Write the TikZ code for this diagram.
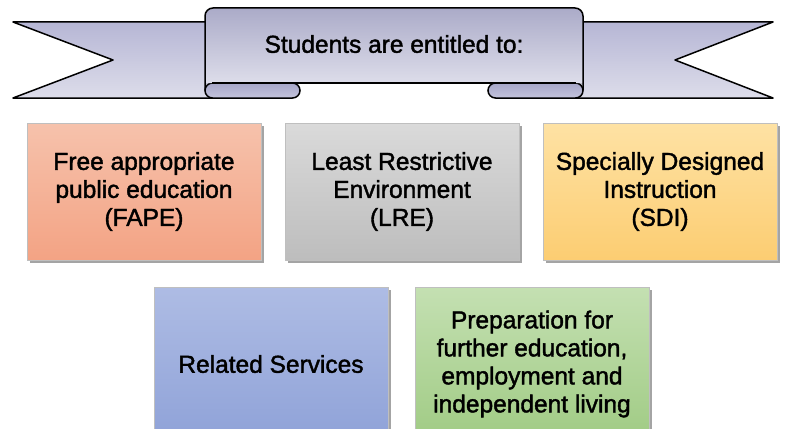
\documentclass[tikz,border=0pt]{standalone}
\usepackage{fontspec}
\setmainfont[FakeBold=1.6]{Liberation Sans}
\usetikzlibrary{shadows}
\definecolor{bantop}{HTML}{B6B6D5}
\definecolor{banbot}{HTML}{DDDDEA}
\definecolor{foldtop}{HTML}{A6A6C8}
\definecolor{foldbot}{HTML}{C4C4DC}
\definecolor{fapetop}{HTML}{F6C2AC}
\definecolor{fapebot}{HTML}{F3A384}
\definecolor{lretop}{HTML}{DADADA}
\definecolor{lrebot}{HTML}{BDBDBD}
\definecolor{sditop}{HTML}{FEE2A4}
\definecolor{sdibot}{HTML}{FCCD72}
\definecolor{reltop}{HTML}{AEBCE4}
\definecolor{relbot}{HTML}{8FA2D8}
\definecolor{preptop}{HTML}{C4E0B2}
\definecolor{prepbot}{HTML}{A0CB84}
\definecolor{shadowgray}{HTML}{A4A4A4}
\tikzset{
  banner/.style={top color=bantop, bottom color=banbot, draw=black, line width=1.5pt, line join=round},
  foldpart/.style={top color=foldtop, bottom color=foldbot, draw=black, line width=1.5pt, rounded corners=7.5pt},
  box/.style={minimum width=234pt, minimum height=137pt, inner sep=0pt, align=center,
    font=\fontsize{24.5}{28}\selectfont, draw=black!25, line width=0.4pt,
    general shadow={shadow xshift=2.5pt, shadow yshift=-2.5pt, fill=shadowgray}},
  tallbox/.style={box, minimum height=154pt},
  bannertext/.style={font=\fontsize{24.5}{28}\selectfont}
}
\begin{document}
\begin{tikzpicture}[x=1pt,y=-1pt]
\useasboundingbox (0,0) rectangle (786,428);
\clip (0,0) rectangle (786,428);
\fill[white] (0,0) rectangle (786,428);
% tails
\path[banner] (13,22) -- (215,22) -- (215,98) -- (13,98) -- (113,60) -- cycle;
\path[banner] (773,22) -- (575,22) -- (575,98) -- (773,98) -- (675,60) -- cycle;
% folds
\path[foldpart] (205,83) rectangle (300,98);
\path[foldpart] (488,83) rectangle (583,98);
% panel
\fill[top color=bantop!94!black, bottom color=banbot] (205,83) [rounded corners=8pt] -- (205,8) -- (583,8) [sharp corners] -- (583,83) -- cycle;
\draw[line width=1.5pt] (205,90) [rounded corners=8pt] -- (205,8) -- (583,8) [sharp corners] -- (583,90);
\draw[line width=1.5pt] (212,83) -- (576,83);
\node[bannertext] (title) at (394,44) {Students are entitled to:};
% boxes
\node[box, top color=fapetop, bottom color=fapebot] (fape) at (144,191.5) {Free appropriate\\public education\\(FAPE)};
\node[box, top color=lretop, bottom color=lrebot] (lre) at (402,191.5) {Least Restrictive\\Environment\\(LRE)};
\node[box, top color=sditop, bottom color=sdibot] (sdi) at (660,191.5) {Specially Designed\\Instruction\\(SDI)};
\node[tallbox, top color=reltop, bottom color=relbot] (rel) at (271,364) {Related Services};
\node[tallbox, top color=preptop, bottom color=prepbot] (prep) at (532,364) {Preparation for\\further education,\\employment and\\independent living};
\end{tikzpicture}
\end{document}
